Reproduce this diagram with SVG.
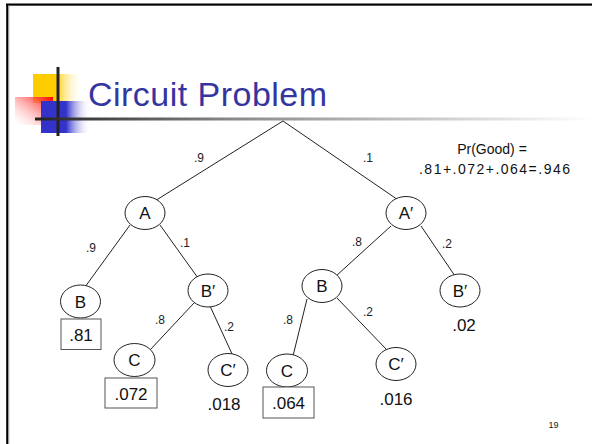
<svg xmlns="http://www.w3.org/2000/svg" width="592" height="444" viewBox="0 0 592 444">
<defs>
<linearGradient id="rule" x1="0" y1="0" x2="1" y2="0">
<stop offset="0" stop-color="#222"/>
<stop offset="0.35" stop-color="#888"/>
<stop offset="1" stop-color="#fff"/>
</linearGradient>
<linearGradient id="yel" x1="0" y1="0" x2="1" y2="0">
<stop offset="0" stop-color="#ffcc00"/>
<stop offset="0.45" stop-color="#ffcc00"/>
<stop offset="1" stop-color="#fff" stop-opacity="0"/>
</linearGradient>
<linearGradient id="red" x1="1" y1="0" x2="0" y2="1">
<stop offset="0" stop-color="#ff0000"/>
<stop offset="1" stop-color="#fff" stop-opacity="0.2"/>
</linearGradient>
<linearGradient id="blu" x1="0" y1="0" x2="1" y2="0">
<stop offset="0" stop-color="#3333cc"/>
<stop offset="0.5" stop-color="#3333cc"/>
<stop offset="1" stop-color="#fff" stop-opacity="0"/>
</linearGradient>
<style>
.edge{stroke:#222;stroke-width:1;fill:none}
.node ellipse{fill:#fff;stroke:#222;stroke-width:1}
.nl{font-family:"Liberation Sans",Arial,sans-serif;font-size:17px;fill:#111;text-anchor:middle}
.el{font-family:"Liberation Sans",Arial,sans-serif;font-size:12px;fill:#222;text-anchor:middle}
.val{font-family:"Liberation Sans",Arial,sans-serif;font-size:17px;fill:#111;text-anchor:middle}
.box{fill:#fff;stroke:#555;stroke-width:1}
</style>
</defs>
<rect width="592" height="444" fill="#fff"/>
<!-- frame -->
<line x1="9" y1="5.5" x2="592" y2="5.5" stroke="#aaa" stroke-width="1"/>
<line x1="6" y1="4.5" x2="592" y2="4.5" stroke="#000" stroke-width="2"/>
<line x1="8.8" y1="6" x2="8.8" y2="444" stroke="#aaa" stroke-width="1"/>
<line x1="7.2" y1="4" x2="7.2" y2="444" stroke="#000" stroke-width="2"/>
<!-- logo -->
<g id="logo">
<rect x="33" y="74" width="50" height="29" fill="url(#yel)"/>
<rect x="15" y="97" width="38" height="28" fill="url(#red)"/>
<rect x="41" y="101" width="50" height="32" fill="url(#blu)"/>
<line x1="58" y1="67" x2="58" y2="136" stroke="#222" stroke-width="3"/>
</g>
<rect x="35" y="117.5" width="557" height="3" fill="url(#rule)"/>
<text x="88" y="106" font-family="Liberation Sans,Arial,sans-serif" font-size="34" fill="#3535a0" textLength="239">Circuit Problem</text>
<!-- connectors -->
<g id="connectors">
<line class="edge" x1="283" y1="121" x2="150" y2="204"/>
<line class="edge" x1="283" y1="121" x2="404" y2="204"/>
<line class="edge" x1="130" y1="225" x2="85" y2="287"/>
<line class="edge" x1="160" y1="225" x2="198" y2="278"/>
<line class="edge" x1="194" y1="303" x2="150" y2="350"/>
<line class="edge" x1="210" y1="306" x2="233" y2="356"/>
<line class="edge" x1="391" y1="226" x2="336" y2="276"/>
<line class="edge" x1="421" y1="226" x2="455" y2="276"/>
<line class="edge" x1="307" y1="299" x2="293" y2="356"/>
<line class="edge" x1="337" y1="298" x2="387" y2="350"/>
<text class="el" x="199" y="162">.9</text>
<text class="el" x="368" y="162">.1</text>
<text class="el" x="91" y="252">.9</text>
<text class="el" x="185" y="247">.1</text>
<text class="el" x="160" y="324">.8</text>
<text class="el" x="229" y="331">.2</text>
<text class="el" x="357" y="246">.8</text>
<text class="el" x="447" y="248">.2</text>
<text class="el" x="288" y="324">.8</text>
<text class="el" x="368" y="316">.2</text>
</g>
<!-- nodes -->
<g id="nA" class="node"><ellipse cx="145" cy="213" rx="20" ry="16.5"/><text class="nl" x="145" y="219">A</text></g>
<g id="nA2" class="node"><ellipse cx="406" cy="213" rx="20" ry="16.5"/><text class="nl" x="406" y="219">A′</text></g>
<g id="nB1" class="node"><ellipse cx="80.5" cy="301.5" rx="20" ry="16.5"/><text class="nl" x="80.5" y="307.5">B</text></g>
<g id="nB1p" class="node"><ellipse cx="208" cy="290.5" rx="20" ry="16.5"/><text class="nl" x="208" y="296.5">B′</text></g>
<g id="nB2" class="node"><ellipse cx="322" cy="286" rx="20" ry="16.5"/><text class="nl" x="322" y="292">B</text></g>
<g id="nB2p" class="node"><ellipse cx="460" cy="290.5" rx="20" ry="16.5"/><text class="nl" x="460" y="296.5">B′</text></g>
<g id="nC1" class="node"><ellipse cx="134.5" cy="360" rx="20.5" ry="16.5"/><text class="nl" x="134.5" y="366">C</text></g>
<g id="nC1p" class="node"><ellipse cx="228" cy="370" rx="20" ry="16.5"/><text class="nl" x="228" y="376">C′</text></g>
<g id="nC2" class="node"><ellipse cx="287" cy="370.5" rx="20.5" ry="16.5"/><text class="nl" x="287" y="376.5">C</text></g>
<g id="nC2p" class="node"><ellipse cx="396" cy="364" rx="20" ry="16.5"/><text class="nl" x="396" y="370">C′</text></g>
<!-- leaf values -->
<g id="v81"><rect class="box" x="61" y="319" width="40" height="30.5"/><text class="val" x="81" y="341">.81</text></g>
<g id="v072"><rect class="box" x="105" y="378" width="52" height="30"/><text class="val" x="131" y="400">.072</text></g>
<g id="v018"><text class="val" x="224" y="410">.018</text></g>
<g id="v064"><rect class="box" x="263" y="387" width="51" height="31"/><text class="val" x="288.5" y="409">.064</text></g>
<g id="v016"><text class="val" x="396" y="405">.016</text></g>
<g id="v02"><text class="val" x="464" y="331">.02</text></g>
<g id="prgood">
<text x="492" y="154" font-family="Liberation Sans,Arial,sans-serif" font-size="14" fill="#111" text-anchor="middle">Pr(Good) =</text>
<text x="494.5" y="174" font-family="Liberation Sans,Arial,sans-serif" font-size="14" fill="#111" text-anchor="middle" textLength="151">.81+.072+.064=.946</text>
</g>
<text x="553.5" y="428" font-family="Liberation Sans,Arial,sans-serif" font-size="9" fill="#222" text-anchor="middle">19</text>
</svg>
